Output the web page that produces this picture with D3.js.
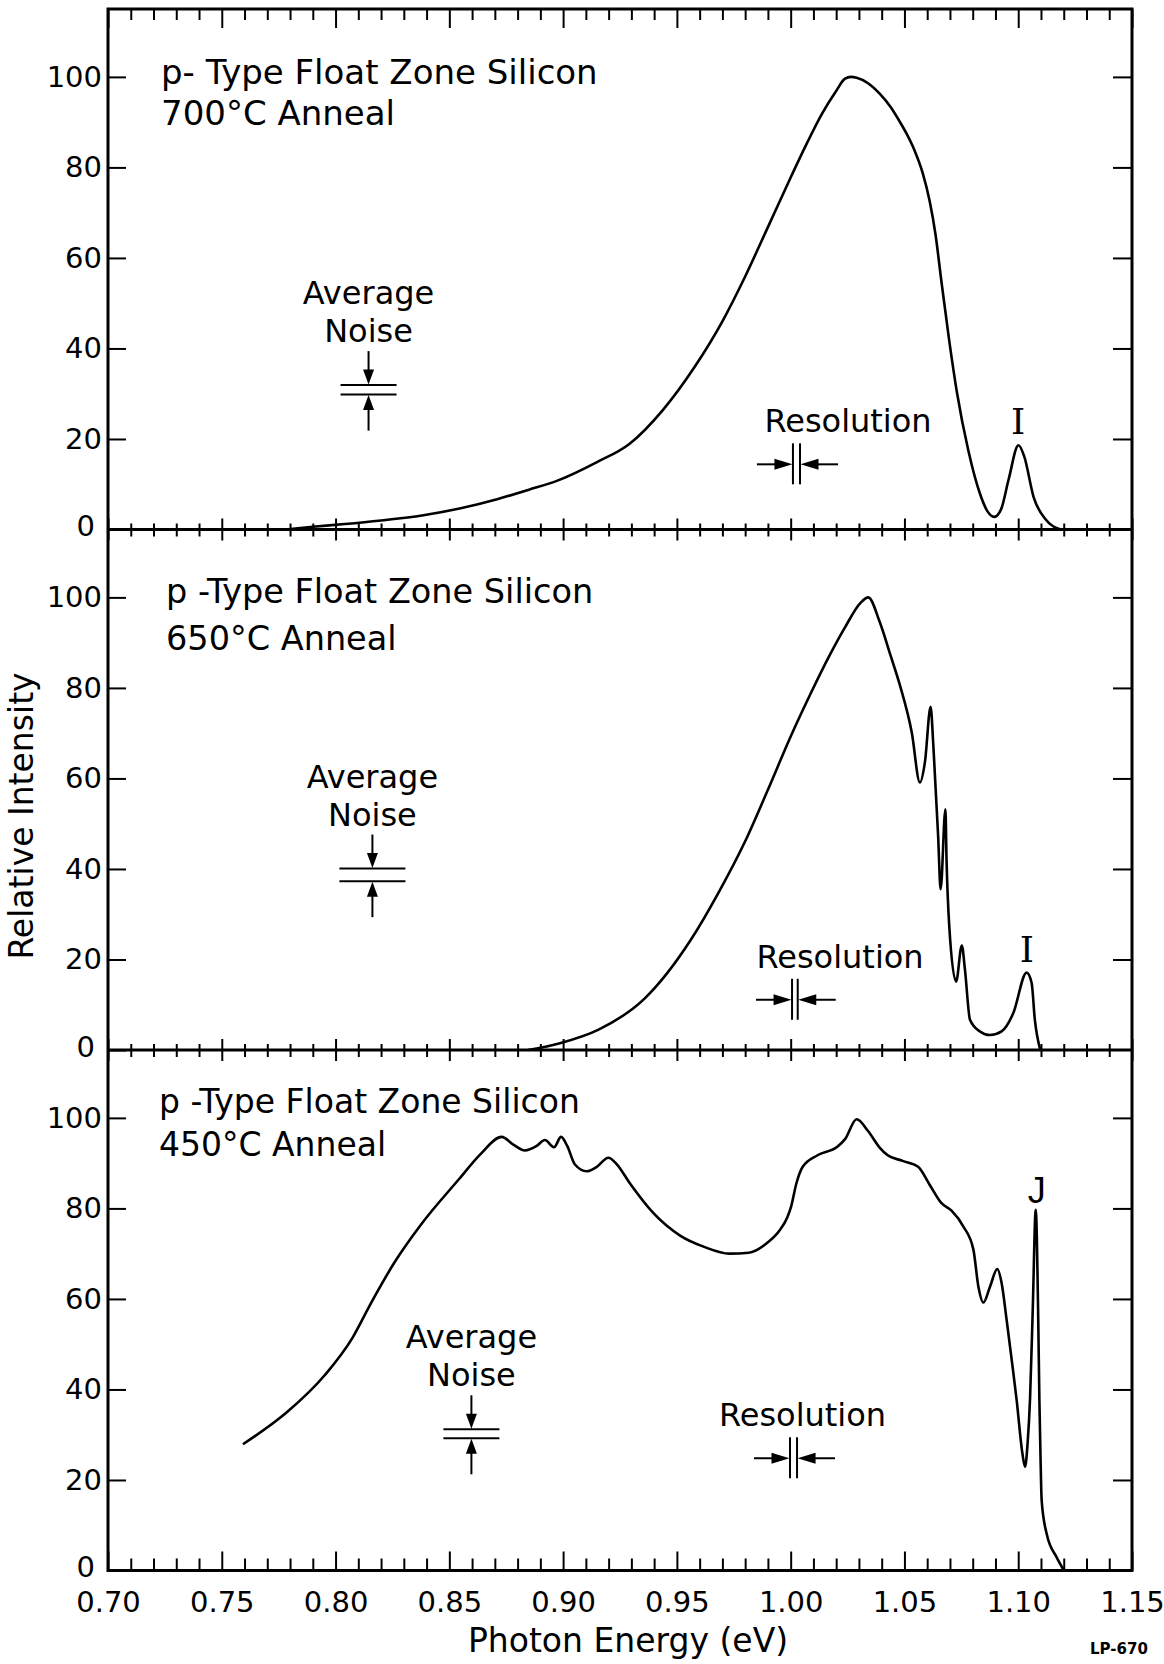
<!DOCTYPE html>
<html>
<head>
<meta charset="utf-8">
<script src="https://cdn.jsdelivr.net/npm/d3@7/dist/d3.min.js"></script>
<style>
html,body{margin:0;padding:0;background:#fff;}
svg{display:block;}
text{font-family:"DejaVu Sans",sans-serif;fill:#000;}
.tick text{font-family:"DejaVu Sans",sans-serif;font-size:29px;fill:#000;}
</style>
</head>
<body>
<svg id="chart" width="1164" height="1664"></svg>
<script>
// ---------------- data ----------------
const energyTickLabels = ["0.70","0.75","0.80","0.85","0.90","0.95","1.00","1.05","1.10","1.15"];
const intensityTicks = [0, 20, 40, 60, 80, 100];
const panelTitles = ["p- Type Float Zone Silicon", "p -Type Float Zone Silicon", "p -Type Float Zone Silicon"];
const annealLabels = ["700°C Anneal", "650°C Anneal", "450°C Anneal"];

const energy700 = [0.778, 0.790, 0.804, 0.820, 0.838, 0.855, 0.871, 0.885, 0.8975, 0.9149, 0.9291, 0.944, 0.9579, 0.970, 0.9799, 0.990, 1.0002, 1.007, 1.0138, 1.020, 1.0239, 1.0265, 1.029, 1.034, 1.0391, 1.044, 1.0476, 1.051, 1.0544, 1.058, 1.0611, 1.0637, 1.0662, 1.0696, 1.073, 1.0781, 1.0832, 1.0865, 1.0895, 1.0925, 1.0958, 1.1001, 1.1026, 1.1068, 1.1119, 1.1187];
const intensity700 = [0, 0.6, 1.2, 2.0, 3.1, 4.7, 6.7, 8.8, 10.8, 14.9, 18.9, 26.5, 36, 46, 55.8, 66.8, 78.0, 85.2, 91.9, 96.9, 99.6, 100, 99.8, 98.6, 96.3, 93.3, 90.4, 87.4, 83.8, 78.8, 72.5, 65, 55, 42, 30.5, 17.4, 7.9, 4.0, 2.8, 4.5, 11.1, 18.6, 16.2, 7.1, 2.3, 0];

const energy650 = [0.8846, 0.8986, 0.9156, 0.9359, 0.9562, 0.968, 0.9799, 0.990, 1.0002, 1.009, 1.0171, 1.024, 1.0307, 1.0341, 1.0391, 1.044, 1.048, 1.0532, 1.0568, 1.059, 1.0615, 1.0627, 1.0648, 1.0659, 1.068, 1.0685, 1.0697, 1.0727, 1.0752, 1.0766, 1.0788, 1.0832, 1.0876, 1.0927, 1.0978, 1.1037, 1.1059, 1.1073, 1.1096];
const intensity650 = [0, 1.5, 4.5, 11.4, 24.4, 34.5, 46, 57.5, 69.5, 79, 87.2, 93.5, 98.8, 100, 94.6, 87, 80.6, 70.2, 59.1, 63.6, 75.8, 67.3, 47.3, 35.5, 53.2, 42, 27.3, 15.1, 23.1, 17.7, 6.7, 4.1, 3.3, 4.1, 8.1, 17.1, 14.8, 6.7, 0.2];

const energy450 = [0.7593, 0.7787, 0.7955, 0.8073, 0.8157, 0.8258, 0.8375, 0.8543, 0.8635, 0.8730, 0.8781, 0.8832, 0.8884, 0.8920, 0.8960, 0.8991, 0.9018, 0.9052, 0.9104, 0.9148, 0.9199, 0.9235, 0.9294, 0.9396, 0.9514, 0.962, 0.9731, 0.9816, 0.990, 0.9951, 0.9985, 1.0002, 1.0025, 1.0053, 1.012, 1.0205, 1.0239, 1.029, 1.034, 1.039, 1.0425, 1.0492, 1.056, 1.061, 1.0662, 1.0707, 1.0759, 1.0803, 1.0825, 1.0847, 1.0876, 1.0908, 1.0927, 1.0949, 1.0975, 1.0993, 1.1018, 1.1030, 1.1041, 1.1052, 1.1064, 1.1077, 1.1088, 1.1093, 1.1098, 1.1103, 1.1125, 1.1169, 1.1201];
const intensity450 = [27.9, 35, 43.3, 51.3, 59.2, 68, 76.4, 86.5, 91.9, 95.8, 94.1, 92.8, 93.8, 95.1, 93.5, 95.8, 93.8, 89.7, 88.2, 89.2, 91.2, 89.8, 85.5, 79, 74, 71.5, 70, 70.2, 72.5, 75.1, 78, 80.4, 85.5, 89.2, 91.8, 93.6, 95.3, 99.7, 97.1, 93.5, 91.8, 90.5, 89.2, 85.3, 81.2, 79.5, 76.0, 70.9, 62.7, 59.2, 62.7, 66.6, 63.5, 55.4, 45.1, 37.7, 26, 22.9, 28, 38, 58, 79.7, 55.4, 37.7, 25, 15.5, 8.1, 2.9, 0];

const peakLabels = ["I", "I", "J"];
const peakLabelEnergy = [1.0999, 1.1038, 1.1081];
const peakLabelIntensity = [21, 19.5, 81.3];

const noiseEnergy = [0.8145, 0.8162, 0.8597];
const noiseUpper = [31.9, 40.1, 31.2];
const noiseLower = [29.8, 37.3, 29.2];

const resolutionLeft = [1.0010, 1.0006, 0.9997];
const resolutionRight = [1.0041, 1.0031, 1.0028];
const resolutionLevel = [14.4, 11.1, 24.8];
const resolutionTextEnergy = [1.0252, 1.0217, 1.0052];

// ---------------- layout / style ----------------
const svg = d3.select("#chart");
const left = 108, right = 1132;
const tops = [9, 529.5, 1050];
const ph = 520.5;
const bottom = tops[2] + ph;
const x = d3.scaleLinear().domain([0.70, 1.15]).range([left, right]);
const series = [[energy700, intensity700], [energy650, intensity650], [energy450, intensity450]];
const majorTicks = energyTickLabels.map(Number);
const minorTicks = d3.range(70, 116).map(v => v / 100);
const isMajor = v => Math.abs(v * 20 - Math.round(v * 20)) < 1e-6;

const titleStyle = [
  {x: 161, dy1: 75, dy2: 116, size: 34},
  {x: 166, dy1: 73.5, dy2: 120.5, size: 33.5},
  {x: 159, dy1: 63, dy2: 106, size: 33}
];
const noiseHalf = [28, 33, 28];
const peakFont = [
  {family: "DejaVu Serif", size: 36},
  {family: "DejaVu Serif", size: 36},
  {family: "Liberation Sans", size: 36}
];

function arrowHead(g, tx, ty, dx, dy, len, half) {
  const bx = tx - dx * len, by = ty - dy * len;
  const px = -dy, py = dx;
  g.append("path")
    .attr("d", `M${tx},${ty}L${bx + px * half},${by + py * half}L${bx - px * half},${by - py * half}Z`)
    .attr("fill", "#000");
}
function seg(g, x1, y1, x2, y2, w) {
  g.append("line").attr("x1", x1).attr("y1", y1).attr("x2", x2).attr("y2", y2)
    .attr("stroke", "#000").attr("stroke-width", w || 2);
}

tops.forEach((top, i) => {
  const y = d3.scaleLinear().domain([0, 115]).range([top + ph, top]);
  const g = svg.append("g");

  // spectrum curve
  const pts = series[i][0].map((e, k) => [e, series[i][1][k]]);
  g.append("path").datum(pts)
    .attr("d", d3.line().x(d => x(d[0])).y(d => y(d[1])).curve(d3.curveMonotoneX))
    .attr("fill", "none").attr("stroke", "#000").attr("stroke-width", 2.6)
    .attr("stroke-linejoin", "round");

  // left axis (ticks inward, labels outside)
  const la = g.append("g").attr("transform", `translate(${left},0)`)
    .call(d3.axisLeft(y).tickValues(intensityTicks).tickSizeInner(-18).tickSizeOuter(0).tickPadding(6).tickFormat(d3.format("d")));
  la.select(".domain").remove();
  la.selectAll("line").attr("stroke", "#000").attr("stroke-width", 2);
  la.selectAll("text").attr("dx", d => d === 0 ? -7 : 0).attr("dy", d => d === 0 ? "0.22em" : "0.32em");

  // right axis ticks (inward)
  const ra = g.append("g").attr("transform", `translate(${right},0)`)
    .call(d3.axisLeft(y).tickValues(intensityTicks.filter(v => v > 0)).tickSize(19).tickFormat(""));
  ra.select(".domain").remove();
  ra.selectAll("line").attr("stroke", "#000").attr("stroke-width", 2);

  // titles
  const ts = titleStyle[i];
  g.append("text").attr("x", ts.x).attr("y", top + ts.dy1).attr("font-size", ts.size).text(panelTitles[i]);
  g.append("text").attr("x", ts.x).attr("y", top + ts.dy2).attr("font-size", ts.size).text(annealLabels[i]);

  // average noise annotation
  const cx = x(noiseEnergy[i]), yU = y(noiseUpper[i]), yL = y(noiseLower[i]), hw = noiseHalf[i];
  const an = g.append("g");
  an.append("text").attr("x", cx).attr("y", yU - 81).attr("text-anchor", "middle").attr("font-size", 32).text("Average");
  an.append("text").attr("x", cx).attr("y", yU - 43).attr("text-anchor", "middle").attr("font-size", 32).text("Noise");
  seg(an, cx - hw, yU, cx + hw, yU, 2);
  seg(an, cx - hw, yL, cx + hw, yL, 2);
  seg(an, cx, yU - 34, cx, yU - 12, 2);
  arrowHead(an, cx, yU - 0.5, 0, 1, 15, 5.5);
  seg(an, cx, yL + 36, cx, yL + 12, 2);
  arrowHead(an, cx, yL + 0.5, 0, -1, 15, 5.5);

  // resolution annotation
  const xl = x(resolutionLeft[i]), xr = x(resolutionRight[i]), ya = y(resolutionLevel[i]);
  const rs = g.append("g");
  rs.append("text").attr("x", x(resolutionTextEnergy[i])).attr("y", ya - 32).attr("text-anchor", "middle").attr("font-size", 32).text("Resolution");
  seg(rs, xl, ya - 21, xl, ya + 20, 2);
  seg(rs, xr, ya - 21, xr, ya + 20, 2);
  seg(rs, xl - 36, ya, xl - 14, ya, 2);
  arrowHead(rs, xl - 0.5, ya, 1, 0, 18, 5.5);
  seg(rs, xr + 38, ya, xr + 14, ya, 2);
  arrowHead(rs, xr + 0.5, ya, -1, 0, 18, 5.5);

  // peak label
  g.append("text").attr("x", x(peakLabelEnergy[i])).attr("y", y(peakLabelIntensity[i]))
    .attr("text-anchor", "middle").attr("font-size", peakFont[i].size)
    .style("font-family", peakFont[i].family).text(peakLabels[i]);
});

// frame
svg.append("rect").attr("x", left).attr("y", tops[0]).attr("width", right - left).attr("height", bottom - tops[0])
  .attr("fill", "none").attr("stroke", "#000").attr("stroke-width", 3);
seg(svg, left, tops[1], right, tops[1], 3);
seg(svg, left, tops[2], right, tops[2], 3);

// energy ticks on each horizontal line
const tickLines = [
  {y: tops[0], kind: "down"},
  {y: tops[1], kind: "cross"},
  {y: tops[2], kind: "cross"},
  {y: bottom, kind: "up"}
];
tickLines.forEach(t => {
  const ax = svg.append("g").attr("transform", `translate(0,${t.y})`)
    .call(d3.axisBottom(x).tickValues(minorTicks).tickFormat("").tickSizeOuter(0));
  ax.select(".domain").remove();
  ax.selectAll("line").attr("stroke", "#000").attr("stroke-width", 2)
    .attr("y1", d => t.kind === "cross" ? -(isMajor(d) ? 11 : 6) : 0)
    .attr("y2", d => {
      const m = isMajor(d);
      if (t.kind === "down") return m ? 19 : 11;
      if (t.kind === "up") return m ? -19 : -12;
      return m ? 11 : 7;
    });
});

// energy tick labels
const xlab = svg.append("g").attr("transform", `translate(0,${bottom})`)
  .call(d3.axisBottom(x).tickValues(majorTicks).tickSize(0).tickFormat((d, k) => energyTickLabels[k]));
xlab.select(".domain").remove();
xlab.selectAll("text").attr("y", 41).attr("dy", 0);

// axis titles
svg.append("text").attr("x", 628).attr("y", 1652).attr("text-anchor", "middle").attr("font-size", 33).text("Photon Energy (eV)");
svg.append("text").attr("transform", "translate(33,816) rotate(-90)").attr("text-anchor", "middle").attr("font-size", 33).text("Relative Intensity");
svg.append("text").attr("x", 1090).attr("y", 1654).attr("font-size", 15).attr("font-weight", "bold").text("LP-670");
</script>
</body>
</html>
